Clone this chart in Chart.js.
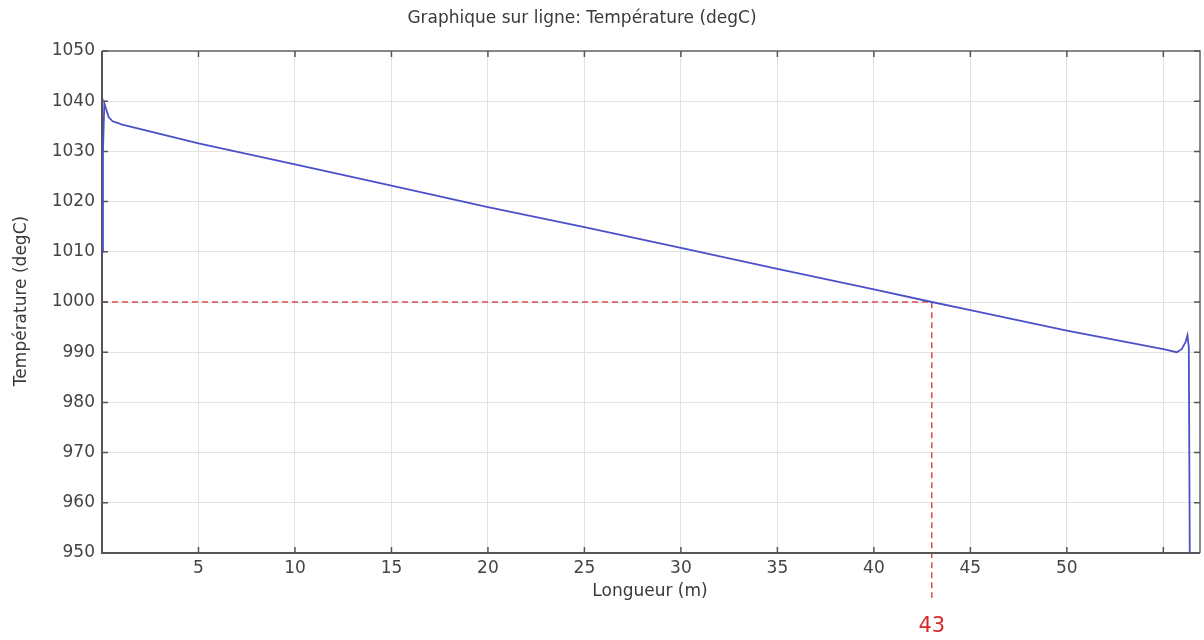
<!DOCTYPE html>
<html>
<head>
<meta charset="utf-8">
<script src="https://cdn.jsdelivr.net/npm/chart.js@4/dist/chart.umd.min.js"></script>
<style>
  html, body { margin: 0; padding: 0; background: #fff; }
  #wrap { width: 1204px; height: 640px; position: relative; }
</style>
</head>
<body>
<div id="wrap"><canvas id="chart"></canvas></div>
<script>
// Longueur (m) et température
const longueur = [0, 0.05, 0.12, 0.2, 0.35, 0.55, 0.8, 1, 5, 10, 15, 20, 25, 30, 35, 40, 43, 45, 50, 55, 55.7, 55.95, 56.15, 56.25, 56.32, 56.37];
const temperature = [1010, 1030, 1039.6, 1038.6, 1036.8, 1036, 1035.7, 1035.4, 1031.6, 1027.4, 1023.2, 1018.9, 1014.9, 1010.8, 1006.6, 1002.5, 1000, 998.4, 994.3, 990.6, 990, 990.6, 992, 993.4, 991, 950];

const xTicks = [5, 10, 15, 20, 25, 30, 35, 40, 45, 50];
const repereX = 43;
const repereY = 1000;

const FONT = '"DejaVu Sans", Verdana, sans-serif';

// Cadre, graduations intérieures, titres et repère rouge
const decorPlugin = {
  id: 'decor',
  beforeDatasetsDraw(chart) {
    const ctx = chart.ctx;
    const a = chart.chartArea;
    const sx = chart.scales.x, sy = chart.scales.y;
    ctx.save();

    // repère pointillé
    const px = sx.getPixelForValue(repereX);
    const py = sy.getPixelForValue(repereY);
    ctx.strokeStyle = '#dd4b4b';
    ctx.lineWidth = 1.5;
    ctx.setLineDash([6, 4]);
    ctx.beginPath();
    ctx.moveTo(a.left, py);
    ctx.lineTo(px, py);
    ctx.lineTo(px, 598);
    ctx.stroke();
    ctx.setLineDash([]);

    // cadre
    ctx.strokeStyle = '#666';
    ctx.lineWidth = 1.5;
    ctx.beginPath();
    ctx.moveTo(a.left, a.top);
    ctx.lineTo(a.right, a.top);
    ctx.lineTo(a.right, a.bottom);
    ctx.stroke();
    ctx.strokeStyle = '#555';
    ctx.lineWidth = 2;
    ctx.beginPath();
    ctx.moveTo(a.left, a.top);
    ctx.lineTo(a.left, a.bottom);
    ctx.lineTo(a.right, a.bottom);
    ctx.stroke();

    // graduations vers l'intérieur
    ctx.lineWidth = 1.5;
    sx.ticks.forEach(t => {
      const x = sx.getPixelForValue(t.value);
      ctx.beginPath();
      ctx.moveTo(x, a.bottom); ctx.lineTo(x, a.bottom - 6);
      ctx.moveTo(x, a.top); ctx.lineTo(x, a.top + 6);
      ctx.stroke();
    });
    sy.ticks.forEach(t => {
      const y = sy.getPixelForValue(t.value);
      ctx.beginPath();
      ctx.moveTo(a.left, y); ctx.lineTo(a.left + 6, y);
      ctx.moveTo(a.right, y); ctx.lineTo(a.right - 6, y);
      ctx.stroke();
    });

    // titres
    ctx.fillStyle = '#3a3a3a';
    ctx.font = '17px ' + FONT;
    ctx.textAlign = 'center';
    ctx.textBaseline = 'middle';
    ctx.fillText('Graphique sur ligne: Température (degC)', 582, 19);
    ctx.fillText('Longueur (m)', 650, 592);
    ctx.save();
    ctx.translate(22, 301);
    ctx.rotate(-Math.PI / 2);
    ctx.fillText('Température (degC)', 0, 0);
    ctx.restore();

    // valeur repérée
    ctx.fillStyle = '#d62a2a';
    ctx.font = '21px ' + FONT;
    ctx.fillText(String(repereX), px, 627);

    ctx.restore();
  }
};

const points = longueur.map((x, i) => ({ x: x, y: temperature[i] }));

new Chart(document.getElementById('chart'), {
  type: 'line',
  data: {
    datasets: [{
      data: points,
      borderColor: '#4b50c8',
      borderWidth: 1.8,
      pointRadius: 0,
      tension: 0,
      fill: false,
      clip: 2
    }]
  },
  options: {
    responsive: true,
    maintainAspectRatio: false,
    animation: false,
    layout: { padding: { top: 51, right: 4, left: 0, bottom: 0 } },
    plugins: {
      legend: { display: false },
      tooltip: { enabled: false },
      title: { display: false }
    },
    scales: {
      x: {
        type: 'linear',
        min: 0,
        max: 56.9,
        afterFit: s => { s.height = 87; },
        border: { display: false },
        grid: { color: '#e2e2e2', lineWidth: 1, drawTicks: false },
        ticks: {
          stepSize: 5,
          includeBounds: false,
          padding: 5,
          color: '#444',
          font: { family: FONT, size: 17 },
          maxRotation: 0,
          autoSkip: false,
          callback: v => xTicks.includes(v) ? String(v) : ''
        }
      },
      y: {
        min: 950,
        max: 1050,
        afterFit: s => { s.width = 102; },
        border: { display: false },
        grid: { color: '#e2e2e2', lineWidth: 1, drawTicks: false },
        ticks: {
          stepSize: 10,
          padding: 7,
          color: '#444',
          font: { family: FONT, size: 17 },
          callback: v => String(v)
        }
      }
    }
  },
  plugins: [decorPlugin]
});
</script>
</body>
</html>
